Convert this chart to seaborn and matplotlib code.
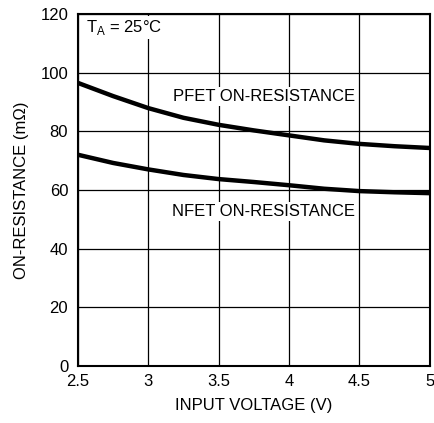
import pandas as pd
import matplotlib.pyplot as plt
import seaborn as sns

# === DONNÉES ===
tension = [2.5, 2.75, 3.0, 3.25, 3.5, 3.75, 4.0, 4.25, 4.5, 4.75, 5.0]
pfet_res = [96.5, 92.0, 87.9, 84.6, 82.2, 80.3, 78.6, 76.9, 75.7, 74.9, 74.3]
nfet_res = [72.0, 69.2, 67.0, 65.1, 63.7, 62.7, 61.6, 60.4, 59.6, 59.2, 58.9]
x_ticks = [2.5, 3, 3.5, 4, 4.5, 5]
x_labels = ["2.5", "3", "3.5", "4", "4.5", "5"]
y_ticks = [0, 20, 40, 60, 80, 100, 120]

df = pd.DataFrame({
    "tension": tension * 2,
    "resistance": pfet_res + nfet_res,
    "serie": ["PFET"] * len(tension) + ["NFET"] * len(tension),
})

sns.set_style("white")
plt.rcParams['font.family'] = ['Liberation Sans', 'DejaVu Sans']
plt.rcParams['text.color'] = 'black'
plt.rcParams['axes.labelcolor'] = 'black'

fig = plt.figure(figsize=(4.35, 4.23), dpi=100)
ax = fig.add_axes([0.179, 0.135, 0.809, 0.832])

sns.lineplot(data=df, x="tension", y="resistance", units="serie", estimator=None,
             color="black", linewidth=3.2, ax=ax)

ax.set_xlim(2.5, 5)
ax.set_ylim(0, 120)
ax.set_xticks(x_ticks)
ax.set_xticklabels(x_labels)
ax.set_yticks(y_ticks)
ax.grid(True, color="black", linewidth=0.9)
ax.set_axisbelow(True)
for s in ax.spines.values():
    s.set_color("black")
    s.set_linewidth(1.5)
ax.tick_params(axis="both", length=0, labelsize=12, colors="black")
ax.tick_params(axis="x", pad=6)
ax.tick_params(axis="y", pad=7)

ax.set_xlabel("INPUT VOLTAGE (V)", fontsize=12, labelpad=6)
ax.set_ylabel("ON-RESISTANCE (mΩ)", fontsize=12, labelpad=8)

boite = dict(facecolor="white", edgecolor="none", pad=1.5)
ax.text(3.82, 92.0, "PFET ON-RESISTANCE", ha="center", va="center", fontsize=12, bbox=boite)
ax.text(3.82, 52.8, "NFET ON-RESISTANCE", ha="center", va="center", fontsize=12, bbox=boite)
ax.text(2.56, 115.5, "T$_\\mathregular{A}$ = 25°C", ha="left", va="center", fontsize=12, bbox=boite)

fig.savefig("out.png", dpi=100)
